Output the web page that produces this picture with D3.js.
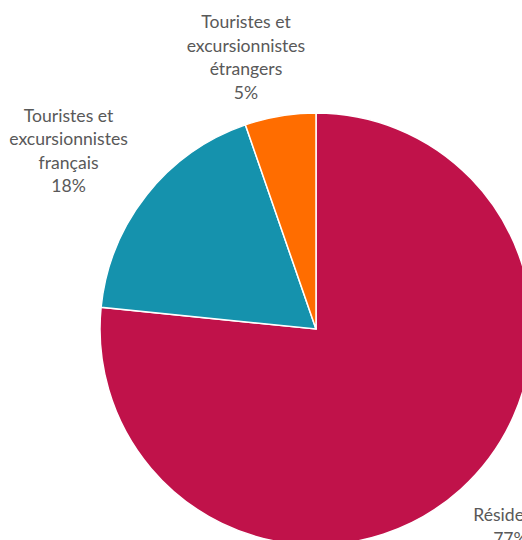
<!DOCTYPE html>
<html>
<head>
<meta charset="utf-8">
<script src="https://cdn.jsdelivr.net/npm/d3@7"></script>
<style>
  body { margin: 0; background: #fff; }
  svg { display: block; }
</style>
</head>
<body>
<div id="chart"></div>
<script>
const labels = [["Résidents"], ["Touristes et", "excursionnistes", "français"], ["Touristes et", "excursionnistes", "étrangers"]]
const values = [76.6, 18.1, 5.3]
const colors = ["#C0124A", "#1592AD", "#FF6D00"]

const width = 522
const height = 540
const cx = 316
const cy = 329
const radius = 216
const lineH = 23.5

const svg = d3.select("#chart")
  .append("svg")
  .attr("width", width)
  .attr("height", height)

const g = svg.append("g")
  .attr("transform", "translate(" + cx + "," + cy + ")")

const pie = d3.pie().sort(null).value(d => d)
const arcs = pie(values)

const arc = d3.arc().innerRadius(0).outerRadius(radius)

g.selectAll("path")
  .data(arcs)
  .enter()
  .append("path")
  .attr("d", arc)
  .attr("fill", (d, i) => colors[i])
  .attr("stroke", "#fff")
  .attr("stroke-width", 1.5)

// label boxes sit just outside the edge, like Excel "outside end"
const nudge = [[18, 10], [-20, -6], [-22, 2]]
arcs.forEach(function (d, i) {
  const lines = labels[i].concat([Math.round(values[i]) + "%"])
  const a = (d.startAngle + d.endAngle) / 2
  const w = i == 0 ? 66 : 120
  const h = lines.length * lineH
  const r = radius + 14
  const x = Math.sin(a) * r + Math.sin(a) * w / 2 + nudge[i][0]
  const y = -Math.cos(a) * r - Math.cos(a) * h / 2 + nudge[i][1]
  const t = g.append("text")
    .attr("text-anchor", "middle")
    .attr("font-family", "Lato, 'Open Sans', sans-serif")
    .attr("font-size", 17.6)
    .attr("fill", "#595959")
  lines.forEach(function (s, k) {
    t.append("tspan")
      .attr("x", x)
      .attr("y", y - h / 2 + lineH * (k + 1) - 6)
      .text(s)
  })
})
</script>
</body>
</html>
